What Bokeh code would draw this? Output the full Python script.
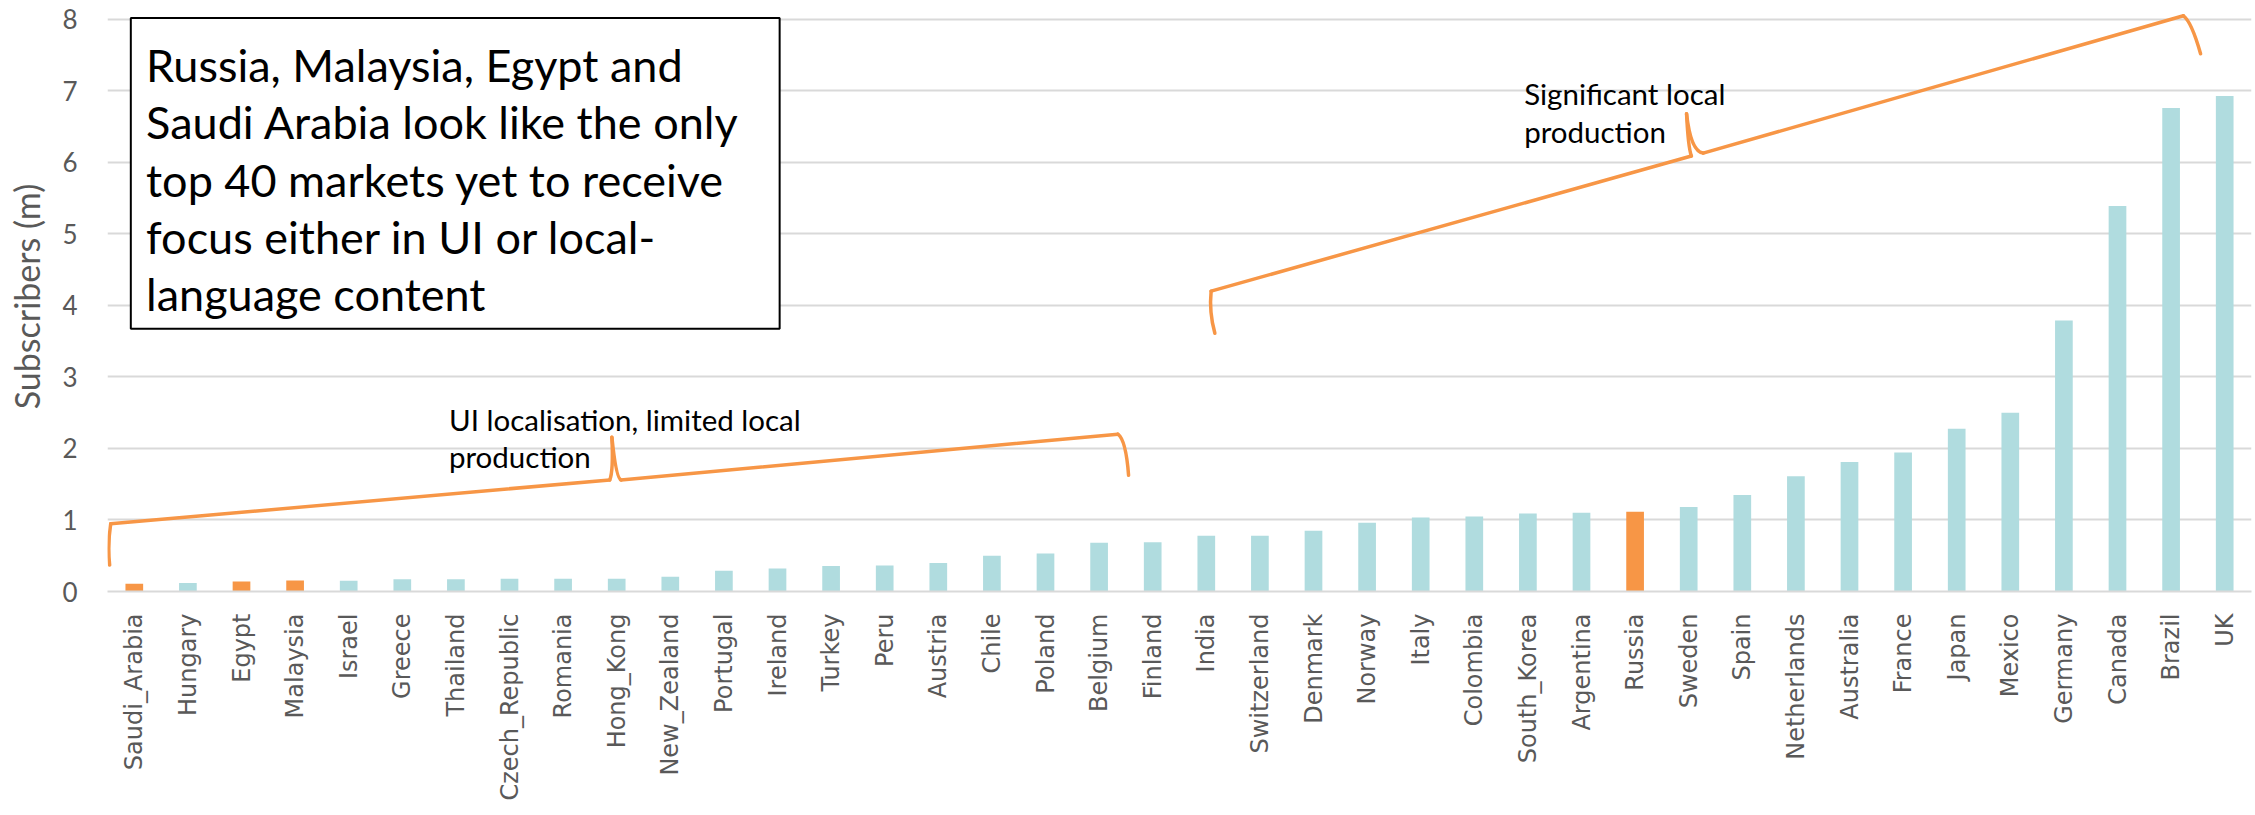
import math
from bokeh.plotting import figure
from bokeh.models import FactorRange, Range1d, FixedTicker
from bokeh.core.properties import value
from bokeh.embed import file_html
from bokeh.resources import INLINE

# ---------------- data ----------------
countries = ["Saudi_Arabia", "Hungary", "Egypt", "Malaysia", "Israel", "Greece", "Thailand",
             "Czech_Republic", "Romania", "Hong_Kong", "New_Zealand", "Portugal", "Ireland",
             "Turkey", "Peru", "Austria", "Chile", "Poland", "Belgium", "Finland", "India",
             "Switzerland", "Denmark", "Norway", "Italy", "Colombia", "South_Korea", "Argentina",
             "Russia", "Sweden", "Spain", "Netherlands", "Australia", "France", "Japan", "Mexico",
             "Germany", "Canada", "Brazil", "UK"]
subscribers = [0.11, 0.12, 0.14, 0.155, 0.15, 0.17, 0.17, 0.18, 0.18, 0.18,
               0.205, 0.29, 0.32, 0.355, 0.365, 0.40, 0.50, 0.53, 0.68, 0.69,
               0.78, 0.78, 0.85, 0.96, 1.035, 1.05, 1.09, 1.10, 1.115, 1.18,
               1.35, 1.61, 1.81, 1.945, 2.275, 2.50, 3.79, 5.39, 6.76, 6.93]
highlighted = ["Saudi_Arabia", "Egypt", "Malaysia", "Russia"]
y_ticks = [0, 1, 2, 3, 4, 5, 6, 7, 8]

box_lines = ["Russia, Malaysia, Egypt and",
             "Saudi Arabia look like the only",
             "top 40 markets yet to receive",
             "focus either in UI or local-",
             "language content"]
ui_label = ["UI localisation, limited local", "production"]
sig_label = ["Significant local", "production"]

# brace key points (x in category index units, y in subscribers)
brace_ui_x = [-0.46, -0.44, 8.87, 8.91, 9.08, 18.35, 18.55]
brace_ui_y = [0.37, 0.947, 1.56, 2.157, 1.56, 2.20, 1.625]
brace_sig_x = [20.16, 20.09, 29.05, 28.96, 29.27, 38.23, 38.55]
brace_sig_y = [3.61, 4.20, 6.09, 6.68, 6.13, 8.05, 7.52]

# text placements (x in category index units, y in subscribers)
box_x = [-0.065, 12.04]
box_y = [3.674, 8.018]
box_text_x = 0.22
box_text_y = [7.36, 6.56, 5.76, 4.96, 4.16]
ui_text_x = 5.87
ui_text_y = [2.41, 1.885]
sig_text_x = 25.93
sig_text_y = [6.965, 6.43]

TEAL = "#B0DCDF"
ORANGE = "#F79646"
GREY = "#595959"

# ---------------- figure ----------------
p = figure(x_range=FactorRange(*countries, range_padding=0),
           y_range=Range1d(0, 8.25),
           width=2255, height=815,
           output_backend="svg", toolbar_location=None,
           min_border_left=107, min_border_right=4,
           min_border_top=1, min_border_bottom=224)
p.outline_line_color = None
p.background_fill_color = "white"
p.border_fill_color = "white"

colors = [ORANGE if c in highlighted else TEAL for c in countries]
p.vbar(x=countries, top=subscribers, width=0.33, fill_color=colors, line_color=None)

# axes
p.xgrid.grid_line_color = None
p.ygrid.grid_line_color = "#D9D9D9"
p.ygrid.grid_line_width = 2
p.yaxis.ticker = FixedTicker(ticks=y_ticks)
p.yaxis.axis_line_color = None
p.yaxis.major_tick_line_color = None
p.yaxis.minor_tick_line_color = None
p.yaxis.major_tick_out = 0
p.yaxis.major_label_standoff = 30
p.yaxis.major_label_text_font = "Lato"
p.yaxis.major_label_text_font_size = "26px"
p.yaxis.major_label_text_color = GREY
p.yaxis.axis_label = "Subscribers (m)"
p.yaxis.axis_label_text_font = "Lato"
p.yaxis.axis_label_text_font_size = "34px"
p.yaxis.axis_label_text_font_style = "normal"
p.yaxis.axis_label_text_color = GREY
p.yaxis.axis_label_standoff = 12

p.xaxis.axis_line_color = "#D9D9D9"
p.xaxis.axis_line_width = 2
p.xaxis.major_tick_line_color = None
p.xaxis.major_tick_out = 0
p.xaxis.major_label_orientation = math.pi / 2
p.xaxis.major_label_standoff = 22
p.xaxis.major_label_text_font = "DejaVu Sans"
p.xaxis.major_label_text_font_size = "24px"
p.xaxis.major_label_text_color = GREY


def syn(v):
    # category index -> synthetic coordinate (category i centred at i + 0.5)
    return v + 0.5


def draw_brace(bx, by):
    x = [syn(v) for v in bx]
    y = by
    lw = 3.5
    p.segment(x0=[x[1], x[4]], y0=[y[1], y[4]], x1=[x[2], x[5]], y1=[y[2], y[5]],
              line_color=ORANGE, line_width=lw, line_cap="round")
    qx0 = [x[0], x[2], x[3], x[5]]
    qy0 = [y[0], y[2], y[3], y[5]]
    qx1 = [x[1], x[3], x[4], x[6]]
    qy1 = [y[1], y[3], y[4], y[6]]
    qcx = [min(x[0], x[1]) - 0.04, x[3] + 0.03, x[3] + 0.08, x[5] + 0.15]
    qcy = [(y[0] + y[1]) / 2, y[2] + 0.12, y[4] + 0.02, y[5] - 0.08]
    p.quadratic(x0=qx0, y0=qy0, x1=qx1, y1=qy1, cx=qcx, cy=qcy,
                line_color=ORANGE, line_width=lw, line_cap="round")


draw_brace(brace_ui_x, brace_ui_y)
draw_brace(brace_sig_x, brace_sig_y)

# text box
p.quad(left=[syn(box_x[0])], right=[syn(box_x[1])], bottom=[box_y[0]], top=[box_y[1]],
       fill_color="white", line_color="black", line_width=2)
p.text(x=[syn(box_text_x)] * len(box_lines), y=box_text_y, text=box_lines,
       text_font=value("Lato"), text_font_size="45px", text_color="black",
       text_baseline="alphabetic", text_align="left")

p.text(x=[syn(ui_text_x)] * 2, y=ui_text_y, text=ui_label,
       text_font=value("Lato"), text_font_size="29.5px", text_color="black",
       text_baseline="alphabetic", text_align="left")
p.text(x=[syn(sig_text_x)] * 2, y=sig_text_y, text=sig_label,
       text_font=value("Lato"), text_font_size="29.5px", text_color="black",
       text_baseline="alphabetic", text_align="left")

open("out.html", "w").write(file_html(p, INLINE))
